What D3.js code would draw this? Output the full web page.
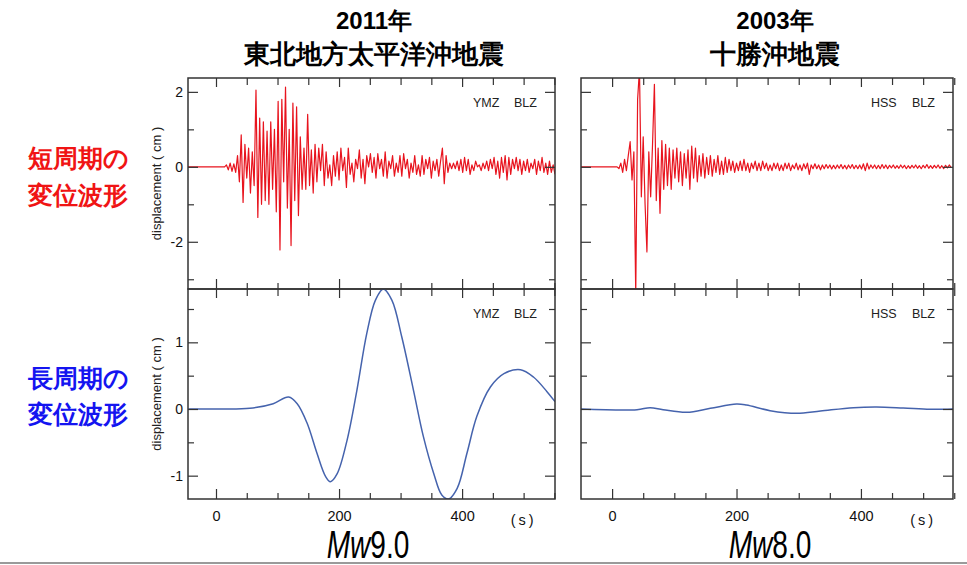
<!DOCTYPE html>
<html>
<head>
<meta charset="utf-8">
<script src="https://cdn.jsdelivr.net/npm/d3@7"></script>
<style>
  body { margin: 0; background: #fff; }
  svg text { font-family: "Liberation Sans", Arial, sans-serif; }
</style>
</head>
<body>
<div id="chart"></div>
<script>
// ---- data ----
// short period traces: samples every 3 s, cm
const shortStep = 3;
const tohokuShortStart = 14;
const tohokuShort = [
  0, 0.05, -0.08, 0.1, -0.12, 0.08, -0.15, 0.3, -0.4, 0.85,
  -0.95, 0.6, -0.3, 0.5, -0.7, 0.4, -0.5, 2.05, -1.35, 1.3,
  -1.0, 1.2, -0.9, 0.95, -1.0, 1.2, -0.6, 1.0, -1.2, 1.75,
  -2.22, 1.8, -0.4, 2.13, -1.1, 1.0, -2.1, 1.7, -0.9, 1.6,
  -1.3, 0.8, -0.6, 0.5, -0.6, 1.4, -0.5, 0.45, -0.7, 0.6,
  -0.4, 0.5, -0.1, 0.6, -0.5, 0.4, -0.3, 0.05, -0.5, 0.3,
  -0.25, 0.4, -0.35, 0.5, -0.1, 0.25, -0.55, 0.5, -0.2, 0.1,
  -0.4, 0.2, -0.05, 0.45, -0.3, 0.2, -0.45, 0.3, 0.0, 0.35,
  -0.15, 0.25, -0.3, 0.35, -0.05, 0.2, -0.25, 0.4, -0.3, 0.15,
  -0.05, 0.3, -0.25, 0.1, -0.15, 0.3, -0.25, 0.35, -0.05, 0.2,
  -0.3, 0.1, -0.15, 0.3, -0.2, 0.05, -0.25, 0.3, -0.2, 0.2,
  -0.05, 0.25, -0.3, 0.15, -0.1, 0.2, -0.25, 0.15, 0.5, -0.45,
  0.3, -0.15, 0.1, -0.05, 0.1, -0.05, 0.15, -0.1, 0.2, -0.15,
  0.25, -0.1, 0.2, -0.2, 0.05, -0.1, 0.15, 0.0, 0.05, -0.1,
  0.1, -0.05, 0.15, -0.1, 0.2, -0.05, 0.25, -0.2, 0.15, -0.3,
  0.25, -0.15, 0.3, -0.35, 0.25, -0.2, 0.2, -0.05, 0.25, -0.1,
  0.2, -0.2, 0.15, -0.1, 0.2, -0.15, 0.1, -0.05, 0.2, -0.2,
  0.15, -0.1, 0.25, -0.15, 0.1, -0.2, 0.15, -0.15, 0.05, -0.2
];
const tokachiShortStart = 8;
const tokachiShort = [
  0, -0.05, 0.1, -0.15, 0.2, -0.1, 0.3, 0.67, -0.35, 0.4,
  -3.4, 1.8, 2.6, -0.8, 0.8, -1.0, -2.27, 0.4, -0.8, 0.6,
  2.2, -0.9, 0.5, -1.24, 0.7, -0.6, 0.6, -0.5, 0.5, -0.6,
  0.45, -0.3, 0.5, -0.4, 0.4, -0.5, 0.35, -0.3, 0.45, -0.6,
  0.55, -0.3, 0.5, -0.4, 0.3, -0.25, 0.35, -0.3, 0.25, -0.2,
  0.3, -0.25, 0.2, -0.15, 0.3, -0.2, 0.15, -0.2, 0.25, -0.15,
  0.2, -0.1, 0.15, -0.15, 0.1, -0.1, 0.15, -0.1, 0.2, -0.1,
  0.1, -0.15, 0.1, -0.05, 0.15, -0.1, 0.1, -0.1, 0.15, -0.05,
  0.1, -0.1, 0.05, -0.1, 0.1, -0.05, 0.1, -0.1, 0.05, -0.1,
  0.1, -0.05, 0.1, -0.1, 0.05, -0.05, 0.1, -0.08, 0.05, -0.1,
  0.08, -0.05, 0.1, -0.2, 0.05, -0.05, 0.08, -0.05, 0.05, -0.08,
  0.05, -0.05, 0.06, -0.04, 0.05, -0.06, 0.04, -0.05, 0.05, -0.04,
  0.06, -0.05, 0.04, -0.06, 0.05, -0.04, 0.06, -0.05, 0.04, -0.05,
  0.05, -0.06, 0.08, -0.1, 0.1, -0.06, 0.05, -0.04, 0.05, -0.05,
  0.04, -0.05, 0.06, -0.04, 0.05, -0.05, 0.04, -0.03, 0.05, -0.04,
  0.03, -0.04, 0.05, -0.03, 0.04, -0.05, 0.03, -0.04, 0.04, -0.03,
  0.05, -0.04, 0.03, -0.05, 0.04, -0.03, 0.06, -0.04, 0.03, -0.04,
  0.04, -0.03, 0.05, -0.04, 0.03, -0.05, 0.04, -0.03, 0.05, -0.02
];
// long period traces (s, cm)
const tohokuLongT = [-45, 0, 55, 93, 118, 132, 148, 164, 178, 186, 197, 213, 229, 245, 259, 272, 286, 302, 321, 337, 354, 367, 378, 392, 408, 424, 446, 468, 495, 516, 538, 551];
const tohokuLongV = [0, 0, 0.01, 0.08, 0.18, 0.08, -0.21, -0.66, -1.01, -1.09, -0.97, -0.47, 0.28, 1.13, 1.63, 1.8, 1.63, 1.08, 0.28, -0.41, -0.97, -1.29, -1.35, -1.19, -0.66, -0.11, 0.33, 0.53, 0.59, 0.48, 0.26, 0.11];
const tokachiLongT = [-50, 40, 61, 82, 120, 158, 200, 216, 254, 297, 335, 388, 425, 468, 511, 548];
const tokachiLongV = [0, -0.01, 0.02, -0.01, -0.05, 0.01, 0.075, 0.06, -0.025, -0.065, -0.03, 0.02, 0.03, 0.015, -0.005, 0];

const xMajor = [0, 200, 400];
const xMinor = [50, 100, 150, 250, 300, 350, 450, 500, 550];
const shortMajorY = [-2, 0, 2];
const shortMinorY = [-3, -1, 1];
const longMajorY = [-1, 0, 1];
const longMinorY = [-0.5, 0.5, 1.5];

const titles1 = ["2011年", "2003年"];
const titles2 = ["東北地方太平洋沖地震", "十勝沖地震"];
const magnitudes = ["9.0", "8.0"];
const stations = [["YMZ", "BLZ"], ["HSS", "BLZ"]];
const rowLabels = [["短周期の", "変位波形"], ["長周期の", "変位波形"]];

// ---- layout ----
const width = 967, height = 565;
const svg = d3.select("#chart").append("svg")
  .attr("width", width).attr("height", height);

const cols = [
  { x0: 188, x1: 555, domain: [-45.5, 551], short: tohokuShort, shortStart: tohokuShortStart,
    longT: tohokuLongT, longV: tohokuLongV, yLabels: true, cx: 374, mx: 368 },
  { x0: 581, x1: 953, domain: [-50, 548], short: tokachiShort, shortStart: tokachiShortStart,
    longT: tokachiLongT, longV: tokachiLongV, yLabels: false, cx: 775, mx: 770 }
];
const rows = [
  { y0: 78, y1: 289, domain: [-3.26, 2.37], major: shortMajorY, minor: shortMinorY },
  { y0: 289, y1: 499, domain: [-1.35, 1.8], major: longMajorY, minor: longMinorY }
];

const redColor = "#e8141e", blueColor = "#4563ad";

cols.forEach(function (c, ci) {
  const x = d3.scaleLinear().domain(c.domain).range([0, c.x1 - c.x0]);
  rows.forEach(function (r, ri) {
    const w = c.x1 - c.x0, h = r.y1 - r.y0;
    const y = d3.scaleLinear().domain(r.domain).range([h, 0]);
    const g = svg.append("g").attr("transform", `translate(${c.x0},${r.y0})`);
    const clipId = "clip" + ci + ri;
    g.append("defs").append("clipPath").attr("id", clipId)
      .append("rect").attr("width", w).attr("height", h);

    // trace
    let data;
    if (ri == 0) {
      data = [{ t: c.domain[0], v: 0 }].concat(
        c.short.map((v, i) => ({ t: c.shortStart + i * shortStep, v: v })));
    } else {
      data = c.longT.map((t, i) => ({ t: t, v: c.longV[i] }));
    }
    const line = d3.line()
      .x(d => x(d.t))
      .y(d => y(d.v))
      .curve(ri == 0 ? d3.curveLinear : d3.curveCatmullRom.alpha(0.5));
    g.append("g").attr("clip-path", `url(#${clipId})`)
      .append("path").datum(data)
      .attr("fill", "none")
      .attr("stroke", ri == 0 ? redColor : blueColor)
      .attr("stroke-width", ri == 0 ? 1.2 : 1.5)
      .attr("stroke-linejoin", "round")
      .attr("d", line);

    // ticks, all pointing inward
    function ax(axis, tr) {
      const a = g.append("g").attr("transform", tr).call(axis);
      a.select(".domain").remove();
      a.selectAll("line").attr("stroke", "#333").attr("stroke-width", 1.2);
      a.selectAll("text").attr("fill", "#111").attr("font-family", "Liberation Sans, Arial, sans-serif");
      return a;
    }
    const showY = c.yLabels;
    const yl = ax(d3.axisLeft(y).tickValues(r.major).tickSize(-10).tickPadding(5)
      .tickFormat(d => showY ? (d < 0 ? "-" + Math.abs(d) : d) : ""), "translate(0,0)");
    yl.selectAll("text").attr("font-size", 14);
    ax(d3.axisLeft(y).tickValues(r.minor).tickSize(-6).tickFormat(""), "translate(0,0)");
    ax(d3.axisRight(y).tickValues(r.major).tickSize(-10).tickFormat(""), `translate(${w},0)`);
    ax(d3.axisRight(y).tickValues(r.minor).tickSize(-6).tickFormat(""), `translate(${w},0)`);
    ax(d3.axisTop(x).tickValues(xMajor).tickSize(-9).tickFormat(""), "translate(0,0)");
    ax(d3.axisTop(x).tickValues(xMinor).tickSize(-7).tickFormat(""), "translate(0,0)");
    const xb = ax(d3.axisBottom(x).tickValues(xMajor).tickSize(-10).tickPadding(12)
      .tickFormat(d => ri == 1 ? d : ""), `translate(0,${h})`);
    xb.selectAll("text").attr("font-size", 14.5);
    ax(d3.axisBottom(x).tickValues(xMinor).tickSize(-6).tickFormat(""), `translate(0,${h})`);
    if (ri == 1) {
      g.append("text").attr("x", x(500)).attr("y", h + 26)
        .attr("text-anchor", "middle").attr("font-size", 14.5)
        .attr("letter-spacing", 3).attr("fill", "#111").text("(s)");
    }

    // frame
    g.append("rect").attr("width", w).attr("height", h)
      .attr("fill", "none").attr("stroke", "#333").attr("stroke-width", 1.5);

    // station names
    g.append("text").attr("x", w - 82).attr("y", 29).attr("font-size", 12.5)
      .attr("fill", "#222").text(stations[ci][0]);
    g.append("text").attr("x", w - 41).attr("y", 29).attr("font-size", 12.5)
      .attr("fill", "#222").text(stations[ci][1]);

    if (c.yLabels) {
      g.append("text")
        .attr("transform", `translate(-27,${h / 2}) rotate(-90)`)
        .attr("text-anchor", "middle").attr("font-size", 13).attr("fill", "#222")
        .text("displacement ( cm )");
    }
  });

  // titles
  svg.append("text").attr("x", c.cx).attr("y", 29).attr("text-anchor", "middle")
    .attr("font-family", "Noto Sans CJK JP").attr("font-weight", "bold")
    .attr("font-size", 24).attr("fill", "#000").text(titles1[ci]);
  svg.append("text").attr("x", c.cx).attr("y", 63).attr("text-anchor", "middle")
    .attr("font-family", "Noto Sans CJK JP").attr("font-weight", "bold")
    .attr("font-size", 26).attr("fill", "#000").text(titles2[ci]);

  // magnitude
  const mg = svg.append("g").attr("transform", `translate(${c.mx},558) scale(0.72,1)`);
  const mt = mg.append("text").attr("text-anchor", "middle").attr("font-size", 39).attr("fill", "#000");
  mt.append("tspan").attr("font-style", "italic").text("M");
  mt.append("tspan").attr("font-style", "italic").text("w");
  mt.append("tspan").text(magnitudes[ci]);
});

// row labels on the left
const rowColors = ["#f01414", "#1414f0"];
const rowY = [[167, 204], [387, 423]];
rowLabels.forEach(function (lab, i) {
  lab.forEach(function (s, j) {
    svg.append("text").attr("x", 78).attr("y", rowY[i][j]).attr("text-anchor", "middle")
      .attr("font-family", "Noto Sans CJK JP").attr("font-weight", "bold")
      .attr("font-size", 25).attr("fill", rowColors[i]).text(s);
  });
});

// grey rule along the bottom
svg.append("line").attr("x1", 0).attr("x2", width).attr("y1", 563).attr("y2", 563)
  .attr("stroke", "#9a9a9a").attr("stroke-width", 2);
</script>
</body>
</html>
